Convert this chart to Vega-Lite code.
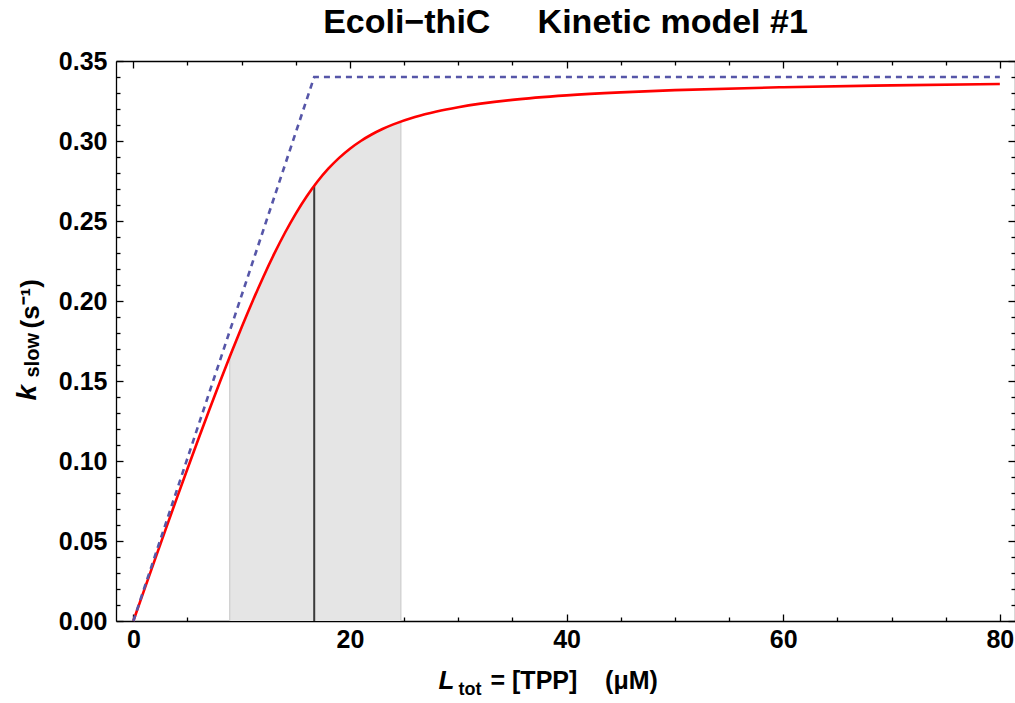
{
  "$schema": "https://vega.github.io/schema/vega-lite/v6.json",
  "width": 899,
  "height": 560,
  "autosize": {"type": "none"},
  "padding": {"left": 116, "top": 61, "right": 0, "bottom": 82},
  "background": "white",
  "config": {
    "view": {"stroke": null},
    "axis": {
      "domainColor": "black", "tickColor": "black", "domainWidth": 1.3, "tickWidth": 1.3,
      "labelFont": "Liberation Sans", "labelFontWeight": "bold", "labelFontSize": 25, "labelColor": "black",
      "titleFont": "Liberation Sans", "titleColor": "black", "titleFontWeight": "bold",
      "grid": false, "zindex": 1, "labelFlush": false, "labelOverlap": false
    }
  },
  "title": {
    "text": "Ecoli\u2212thiC\u00a0\u00a0\u00a0\u00a0\u00a0Kinetic model #1",
    "font": "Liberation Sans", "fontSize": 34, "fontWeight": "bold", "color": "black",
    "anchor": "middle", "frame": "group", "baseline": "alphabetic", "offset": -18
  },
  "datasets": {
    "curve": [
      {"x": 0, "y": 0}, {"x": 1, "y": 0.01933}, {"x": 2, "y": 0.03855}, {"x": 3, "y": 0.05761},
      {"x": 4, "y": 0.0765}, {"x": 5, "y": 0.09519}, {"x": 6, "y": 0.11362}, {"x": 7, "y": 0.13176},
      {"x": 8, "y": 0.14953}, {"x": 9, "y": 0.16685}, {"x": 10, "y": 0.18363}, {"x": 11, "y": 0.19974},
      {"x": 12, "y": 0.21505}, {"x": 13, "y": 0.22941}, {"x": 14, "y": 0.24265}, {"x": 15, "y": 0.25466},
      {"x": 16, "y": 0.26534}, {"x": 17, "y": 0.27466}, {"x": 18, "y": 0.28266}, {"x": 19, "y": 0.28946},
      {"x": 20, "y": 0.29519}, {"x": 21, "y": 0.30001}, {"x": 22, "y": 0.30406}, {"x": 23, "y": 0.30749},
      {"x": 24, "y": 0.31039}, {"x": 26, "y": 0.31501}, {"x": 28, "y": 0.31848}, {"x": 30, "y": 0.32115},
      {"x": 35, "y": 0.32569}, {"x": 40, "y": 0.32851}, {"x": 45, "y": 0.33041}, {"x": 50, "y": 0.33178},
      {"x": 60, "y": 0.33361}, {"x": 70, "y": 0.33478}, {"x": 80, "y": 0.33559}
    ],
    "shade": [
      {"x": 8.9, "y": 0.16514}, {"x": 9, "y": 0.16685}, {"x": 10, "y": 0.18363}, {"x": 11, "y": 0.19974},
      {"x": 12, "y": 0.21505}, {"x": 13, "y": 0.22941}, {"x": 14, "y": 0.24265}, {"x": 15, "y": 0.25466},
      {"x": 16, "y": 0.26534}, {"x": 16.7, "y": 0.272}, {"x": 17, "y": 0.27466}, {"x": 18, "y": 0.28266},
      {"x": 19, "y": 0.28946}, {"x": 20, "y": 0.29519}, {"x": 21, "y": 0.30001}, {"x": 22, "y": 0.30406},
      {"x": 23, "y": 0.30749}, {"x": 24, "y": 0.31039}, {"x": 24.7, "y": 0.31217}
    ],
    "rules": [
      {"x": 8.9, "y0": 0, "top": 0.16514, "kind": "edge"},
      {"x": 24.7, "y0": 0, "top": 0.31217, "kind": "edge"},
      {"x": 16.7, "y0": 0, "top": 0.272, "kind": "mid"}
    ],
    "bound": [
      {"x": 0, "y": 0}, {"x": 16.7, "y": 0.34}, {"x": 80, "y": 0.34}
    ]
  },
  "layer": [
    {
      "data": {"name": "shade"},
      "mark": {"type": "area", "color": "#e5e5e5", "opacity": 1},
      "encoding": {
        "x": {
          "field": "x", "type": "quantitative",
          "scale": {"domain": [-1.6, 81.4], "nice": false, "zero": false},
          "axis": {
            "orient": "bottom", "values": [0, 20, 40, 60, 80], "format": "d", "tickSize": -7, "labelPadding": 13,
            "title": "L", "titleFontSize": 26, "titleFontStyle": "italic",
            "titleX": 322, "titleY": 67, "titleAlign": "left", "titleBaseline": "alphabetic"
          }
        },
        "y": {
          "field": "y", "type": "quantitative",
          "scale": {"domain": [0, 0.35], "nice": false, "zero": false},
          "axis": {
            "orient": "left", "values": [0, 0.05, 0.1, 0.15, 0.2, 0.25, 0.3, 0.35], "format": ".2f",
            "tickSize": -7, "labelPadding": 16,
            "title": "k", "titleFontSize": 28, "titleFontStyle": "italic", "titleAngle": -90,
            "titleX": -81, "titleY": 339, "titleAlign": "left", "titleBaseline": "alphabetic"
          }
        }
      }
    },
    {
      "data": {"name": "rules"},
      "mark": {"type": "rule"},
      "encoding": {
        "x": {
          "field": "x", "type": "quantitative",
          "scale": {"domain": [-1.6, 81.4], "nice": false, "zero": false},
          "axis": {
            "orient": "bottom", "values": [5, 10, 15, 25, 30, 35, 45, 50, 55, 65, 70, 75], "tickSize": -4,
            "labels": false, "domain": false,
            "title": "tot", "titleFontSize": 18,
            "titleX": 342, "titleY": 73, "titleAlign": "left", "titleBaseline": "alphabetic"
          }
        },
        "y": {
          "field": "y0", "type": "quantitative",
          "scale": {"domain": [0, 0.35], "nice": false, "zero": false},
          "axis": {
            "orient": "left",
            "values": [0.01, 0.02, 0.03, 0.04, 0.06, 0.07, 0.08, 0.09, 0.11, 0.12, 0.13, 0.14, 0.16, 0.17, 0.18, 0.19, 0.21, 0.22, 0.23, 0.24, 0.26, 0.27, 0.28, 0.29, 0.31, 0.32, 0.33, 0.34],
            "tickSize": -4, "labels": false, "domain": false,
            "title": "slow", "titleFontSize": 20, "titleAngle": -90,
            "titleX": -78, "titleY": 316, "titleAlign": "left", "titleBaseline": "alphabetic"
          }
        },
        "y2": {"field": "top"},
        "color": {"field": "kind", "type": "nominal", "scale": {"domain": ["edge", "mid"], "range": ["#cdcdcd", "#3a3a3a"]}, "legend": null},
        "size": {"field": "kind", "type": "nominal", "scale": {"domain": ["edge", "mid"], "range": [1.2, 2]}, "legend": null}
      }
    },
    {
      "data": {"name": "curve"},
      "mark": {"type": "line", "color": "#ff0000", "strokeWidth": 2.6, "interpolate": "monotone"},
      "encoding": {
        "x": {
          "field": "x", "type": "quantitative",
          "scale": {"domain": [-1.6, 81.4], "nice": false, "zero": false},
          "axis": {
            "orient": "top", "values": [0, 20, 40, 60, 80], "tickSize": -7, "labels": false,
            "title": "=\u00a0[TPP]\u00a0\u00a0\u00a0\u00a0(\u03bcM)", "titleFontSize": 25,
            "titleX": 374, "titleY": 627, "titleAlign": "left", "titleBaseline": "alphabetic"
          }
        },
        "y": {
          "field": "y", "type": "quantitative",
          "scale": {"domain": [0, 0.35], "nice": false, "zero": false},
          "axis": {
            "orient": "right", "values": [0, 0.05, 0.1, 0.15, 0.2, 0.25, 0.3, 0.35], "tickSize": -7, "labels": false,
            "title": "(s\u207b\u00b9)", "titleFontSize": 26, "titleAngle": -90,
            "titleX": -977, "titleY": 267, "titleAlign": "left", "titleBaseline": "alphabetic"
          }
        }
      }
    },
    {
      "data": {"name": "bound"},
      "mark": {"type": "line", "color": "#5656a8", "strokeWidth": 2.6, "strokeDash": [6, 5]},
      "encoding": {
        "x": {
          "field": "x", "type": "quantitative",
          "scale": {"domain": [-1.6, 81.4], "nice": false, "zero": false},
          "axis": {
            "orient": "top", "values": [5, 10, 15, 25, 30, 35, 45, 50, 55, 65, 70, 75], "tickSize": -4,
            "labels": false, "domain": false, "title": null
          }
        },
        "y": {
          "field": "y", "type": "quantitative",
          "scale": {"domain": [0, 0.35], "nice": false, "zero": false},
          "axis": {
            "orient": "right",
            "values": [0.01, 0.02, 0.03, 0.04, 0.06, 0.07, 0.08, 0.09, 0.11, 0.12, 0.13, 0.14, 0.16, 0.17, 0.18, 0.19, 0.21, 0.22, 0.23, 0.24, 0.26, 0.27, 0.28, 0.29, 0.31, 0.32, 0.33, 0.34],
            "tickSize": -4, "labels": false, "domain": false, "title": null
          }
        }
      }
    }
  ],
  "resolve": {"axis": {"x": "independent", "y": "independent"}}
}
